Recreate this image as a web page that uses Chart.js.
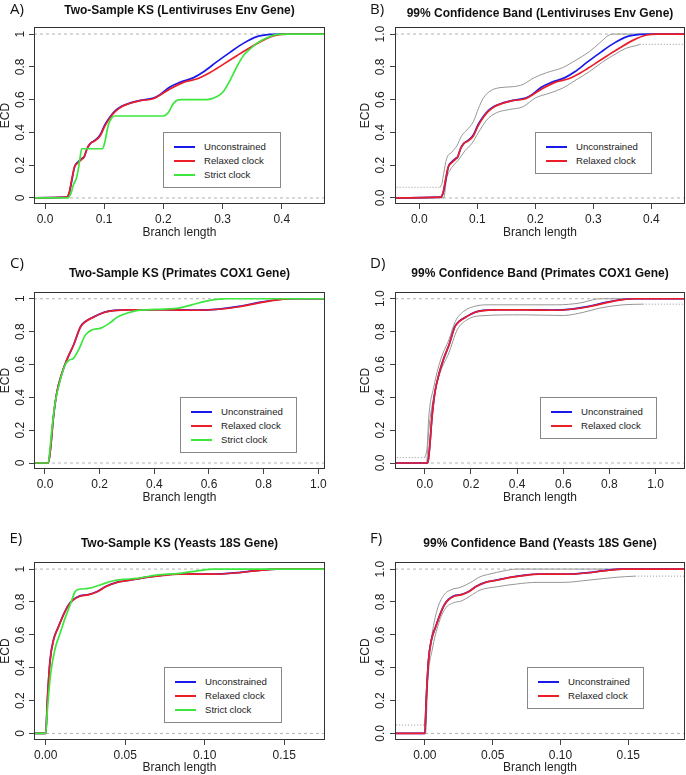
<!DOCTYPE html>
<html>
<head>
<meta charset="utf-8">
<script src="https://cdn.jsdelivr.net/npm/chart.js@4.4.0/dist/chart.umd.min.js"></script>
<style>
  html, body { margin: 0; padding: 0; background: #fff; }
  #fig { position: relative; width: 686px; height: 775px; overflow: hidden; font-family: "Liberation Sans", Arial, sans-serif; }
  .panel { position: absolute; }
  .letter { position: absolute; font-family: "Open Sans", "Liberation Sans", sans-serif; font-size: 15px; line-height: 1; color: #111; transform: translateY(-50%); }
  .title { position: absolute; font-weight: bold; font-size: 12px; line-height: 1; color: #111; white-space: nowrap; transform: translate(-50%, -50%); }
  .legend { position: absolute; box-sizing: border-box; border: 1px solid #888; background: #fff; font-size: 9.6px; color: #222; z-index: 2; }
  .legend .swatch { position: absolute; left: 10px; width: 21px; height: 2px; }
  .legend .label { position: absolute; left: 40px; line-height: 1; white-space: nowrap; transform: translateY(-50%); }
</style>
</head>
<body>
<div id="fig"></div>
<script>
// axis ticks
const ecdTicks = [0, 0.2, 0.4, 0.6, 0.8, 1];
const lentiTicks = [0, 0.1, 0.2, 0.3, 0.4];
const primTicks = [0, 0.2, 0.4, 0.6, 0.8, 1.0];
const yeastTicks = [0, 0.05, 0.10, 0.15];

const seriesNames = ['Unconstrained', 'Relaxed clock', 'Strict clock'];
const letters = ['A)', 'B)', 'C)', 'D)', 'E)', 'F)'];
const titles = [
  'Two-Sample KS (Lentiviruses Env Gene)',
  '99% Confidence Band (Lentiviruses Env Gene)',
  'Two-Sample KS (Primates COX1 Gene)',
  '99% Confidence Band (Primates COX1 Gene)',
  'Two-Sample KS (Yeasts 18S Gene)',
  '99% Confidence Band (Yeasts 18S Gene)'
];

// Lentiviruses Env gene: [branch length, ECD]
const lentiUnconstrained = [[-0.06,0],[0.037,0.005],[0.041,0.03],[0.045,0.10],[0.05,0.19],[0.056,0.22],[0.062,0.24],[0.066,0.25],[0.071,0.30],[0.076,0.33],[0.085,0.354],[0.093,0.384],[0.101,0.445],[0.11,0.496],[0.118,0.53],[0.13,0.561],[0.144,0.58],[0.161,0.595],[0.183,0.61],[0.194,0.63],[0.211,0.677],[0.228,0.705],[0.251,0.734],[0.268,0.77],[0.29,0.83],[0.313,0.89],[0.335,0.943],[0.358,0.984],[0.38,0.998],[0.40,1],[0.5,1]];
const lentiRelaxed = [[-0.06,0],[0.037,0.005],[0.041,0.035],[0.045,0.11],[0.05,0.19],[0.056,0.215],[0.062,0.235],[0.066,0.25],[0.071,0.30],[0.076,0.33],[0.085,0.35],[0.093,0.378],[0.101,0.438],[0.11,0.49],[0.118,0.525],[0.13,0.558],[0.144,0.578],[0.161,0.594],[0.183,0.605],[0.2,0.64],[0.211,0.665],[0.234,0.705],[0.256,0.726],[0.279,0.766],[0.301,0.815],[0.324,0.868],[0.346,0.917],[0.369,0.963],[0.392,0.994],[0.41,1],[0.5,1]];
const lentiStrict = [[-0.06,0],[0.039,0],[0.044,0.03],[0.048,0.08],[0.053,0.12],[0.056,0.17],[0.059,0.24],[0.062,0.30],[0.097,0.30],[0.101,0.34],[0.107,0.445],[0.112,0.485],[0.118,0.50],[0.2,0.50],[0.208,0.52],[0.217,0.577],[0.225,0.598],[0.232,0.60],[0.273,0.60],[0.29,0.617],[0.301,0.648],[0.313,0.72],[0.324,0.80],[0.335,0.868],[0.344,0.90],[0.358,0.943],[0.375,0.977],[0.392,0.998],[0.41,1],[0.5,1]];
const lentiUpper = [[0.036,0.065],[0.039,0.09],[0.042,0.15],[0.047,0.24],[0.056,0.28],[0.065,0.32],[0.073,0.38],[0.082,0.415],[0.093,0.465],[0.102,0.547],[0.11,0.608],[0.122,0.652],[0.139,0.673],[0.162,0.679],[0.179,0.693],[0.196,0.73],[0.219,0.764],[0.247,0.795],[0.27,0.841],[0.293,0.892],[0.31,0.943],[0.327,0.994],[0.333,1],[0.5,1]];
const lentiLower = [[-0.06,0],[0.042,0],[0.047,0.12],[0.053,0.17],[0.059,0.20],[0.067,0.23],[0.079,0.29],[0.09,0.33],[0.102,0.40],[0.116,0.475],[0.133,0.52],[0.156,0.54],[0.179,0.557],[0.2,0.61],[0.225,0.64],[0.247,0.67],[0.27,0.72],[0.293,0.77],[0.316,0.83],[0.339,0.88],[0.356,0.913],[0.373,0.929],[0.38,0.937]];
const lentiUpperTail = [[-0.06,0.065],[0.036,0.065]];
const lentiLowerTail = [[0.38,0.937],[0.5,0.937]];

// Primates COX1 gene
const primUnconstrained = [[-0.2,0],[0.012,0],[0.016,0.03],[0.021,0.10],[0.031,0.28],[0.043,0.425],[0.062,0.547],[0.08,0.628],[0.105,0.72],[0.13,0.83],[0.148,0.862],[0.179,0.89],[0.216,0.917],[0.253,0.929],[0.315,0.933],[0.438,0.933],[0.56,0.931],[0.636,0.937],[0.71,0.953],[0.784,0.978],[0.846,0.994],[0.907,1],[1.2,1]];
const primRelaxed = [[-0.2,0],[0.012,0],[0.016,0.03],[0.021,0.10],[0.031,0.28],[0.043,0.425],[0.062,0.547],[0.08,0.63],[0.105,0.72],[0.13,0.828],[0.148,0.86],[0.179,0.889],[0.216,0.916],[0.253,0.928],[0.315,0.932],[0.438,0.932],[0.56,0.93],[0.636,0.936],[0.71,0.951],[0.784,0.975],[0.846,0.992],[0.91,1],[1.2,1]];
const primStrict = [[-0.2,0],[0.012,0],[0.018,0.08],[0.025,0.2],[0.037,0.364],[0.056,0.506],[0.074,0.598],[0.086,0.624],[0.105,0.638],[0.123,0.689],[0.148,0.78],[0.173,0.811],[0.204,0.821],[0.235,0.85],[0.265,0.888],[0.302,0.913],[0.34,0.929],[0.438,0.937],[0.488,0.943],[0.537,0.963],[0.586,0.984],[0.636,0.998],[0.67,1],[1.2,1]];
const primUpper = [[0.0,0.033],[0.01,0.1],[0.017,0.28],[0.039,0.465],[0.068,0.628],[0.104,0.75],[0.132,0.862],[0.168,0.923],[0.226,0.957],[0.283,0.963],[0.571,0.963],[0.672,0.974],[0.744,0.998],[0.77,1],[1.2,1]];
const primLower = [[-0.2,0],[0.007,0],[0.017,0.2],[0.039,0.405],[0.068,0.557],[0.104,0.67],[0.14,0.81],[0.183,0.872],[0.24,0.896],[0.427,0.902],[0.6,0.898],[0.686,0.917],[0.758,0.943],[0.859,0.963],[0.945,0.967]];
const primUpperTail = [[-0.2,0.033],[0.0,0.033]];
const primLowerTail = [[0.945,0.967],[1.2,0.967]];

// Yeasts 18S gene
const yeastUnconstrained = [[-0.03,0],[0,0],[0.001,0.2],[0.0027,0.446],[0.0048,0.568],[0.008,0.65],[0.011,0.72],[0.0142,0.78],[0.0174,0.815],[0.0215,0.837],[0.0268,0.845],[0.032,0.862],[0.038,0.896],[0.0446,0.919],[0.053,0.933],[0.063,0.95],[0.074,0.963],[0.084,0.97],[0.105,0.97],[0.12,0.978],[0.132,0.99],[0.145,1],[0.2,1]];
const yeastRelaxed = [[-0.03,0],[0,0],[0.001,0.2],[0.0027,0.44],[0.0048,0.565],[0.008,0.648],[0.011,0.718],[0.0142,0.779],[0.0174,0.813],[0.0215,0.835],[0.0268,0.843],[0.032,0.86],[0.038,0.894],[0.0446,0.918],[0.053,0.932],[0.063,0.949],[0.074,0.962],[0.084,0.969],[0.105,0.969],[0.12,0.977],[0.132,0.989],[0.146,1],[0.2,1]];
const yeastStrict = [[-0.03,0],[0,0],[0.001,0.14],[0.0031,0.365],[0.0059,0.517],[0.009,0.609],[0.0121,0.70],[0.0153,0.781],[0.0184,0.862],[0.0205,0.876],[0.0268,0.882],[0.034,0.903],[0.0425,0.929],[0.0487,0.937],[0.057,0.943],[0.0697,0.963],[0.084,0.974],[0.099,0.994],[0.105,1],[0.2,1]];
const yeastUpper = [[0,0.051],[0.001,0.2],[0.0022,0.404],[0.0054,0.607],[0.009,0.75],[0.0139,0.84],[0.02,0.876],[0.026,0.888],[0.0334,0.917],[0.0407,0.953],[0.048,0.97],[0.0578,0.988],[0.0676,1],[0.2,1]];
const yeastLower = [[-0.03,0],[0.0005,0],[0.0022,0.323],[0.0054,0.507],[0.0102,0.669],[0.0151,0.76],[0.0212,0.795],[0.0273,0.807],[0.0334,0.836],[0.0407,0.872],[0.0529,0.892],[0.0676,0.909],[0.082,0.919],[0.102,0.919],[0.121,0.933],[0.141,0.95],[0.155,0.957]];
const yeastUpperTail = [[-0.03,0.051],[0,0.051]];
const yeastLowerTail = [[0.155,0.957],[0.2,0.957]];

// colours
const BLUE = '#1919eb';
const RED = '#eb1e28';
const GREEN = '#3ce63c';
const BAND = '#969696';
const REF = '#b4b4b4';
const FONT = '"Liberation Sans", Arial, sans-serif';

const panels = [
  { canvas: [0, 0, 255], plot: [34, 325, 27, 204], xRange: [-0.0186, 0.473], yRange: [-0.037, 1.043],
    xTicks: lentiTicks, xDigits: 1, yFixed: false, titleY: 9.5, letterPos: [10, 7.5], legend: [163, 132, 118, 56],
    ecdPad: 0, yTickPad: 0, branchPad: 16.7,
    lines: [lentiUnconstrained, lentiRelaxed, lentiStrict] },
  { canvas: [343, 0, 255], plot: [395, 685, 27, 204], xRange: [-0.042, 0.458], yRange: [-0.037, 1.043],
    xTicks: lentiTicks, xDigits: 1, yFixed: true, titleY: 13, letterPos: [370, 8.3], legend: [535, 132, 117, 42],
    ecdPad: 17, yTickPad: 1, branchPad: 16.7,
    lines: [lentiUnconstrained, lentiRelaxed], band: [lentiUpper, lentiLower], tails: [lentiUpperTail, lentiLowerTail] },
  { canvas: [0, 255, 255], plot: [34, 325, 292, 469], xRange: [-0.0402, 1.0245], yRange: [-0.0365, 1.041],
    xTicks: primTicks, xDigits: 1, yFixed: false, titleY: 273.3, letterPos: [10, 261.7], legend: [180, 397, 117, 56],
    ecdPad: 0, yTickPad: 0, branchPad: 6.3,
    lines: [primUnconstrained, primRelaxed, primStrict] },
  { canvas: [343, 255, 255], plot: [395, 685, 292, 469], xRange: [-0.1295, 1.128], yRange: [-0.0365, 1.041],
    xTicks: primTicks, xDigits: 1, yFixed: true, titleY: 273.3, letterPos: [370, 261.7], legend: [540, 397, 117, 42],
    ecdPad: 16.5, yTickPad: 1, branchPad: 6.3,
    lines: [primUnconstrained, primRelaxed], band: [primUpper, primLower], tails: [primUpperTail, primLowerTail] },
  { canvas: [0, 510, 265], plot: [34, 325, 562, 740], xRange: [-0.0074, 0.1756], yRange: [-0.04, 1.043],
    xTicks: yeastTicks, xDigits: 2, yFixed: false, titleY: 543.3, letterPos: [9.5, 537], legend: [164, 667, 118, 56],
    ecdPad: 0, yTickPad: 0, branchPad: 1.3,
    lines: [yeastUnconstrained, yeastRelaxed, yeastStrict] },
  { canvas: [343, 510, 265], plot: [395, 685, 562, 740], xRange: [-0.022, 0.1918], yRange: [-0.04, 1.043],
    xTicks: yeastTicks, xDigits: 2, yFixed: true, titleY: 543.3, letterPos: [370, 536.7], legend: [527, 667, 117, 42],
    ecdPad: 16.5, yTickPad: 1, branchPad: 1.3,
    lines: [yeastUnconstrained, yeastRelaxed], band: [yeastUpper, yeastLower], tails: [yeastUpperTail, yeastLowerTail] }
];

const lineColors = [BLUE, RED, GREEN];

const pts = arr => arr.map(([x, y]) => ({ x, y }));

const boxPlugin = {
  id: 'box',
  afterDatasetsDraw(chart) {
    const a = chart.chartArea, ctx = chart.ctx;
    ctx.save();
    ctx.strokeStyle = '#333';
    ctx.lineWidth = 1;
    ctx.strokeRect(Math.round(a.left) + 0.5, Math.round(a.top) + 0.5,
      Math.round(a.right - a.left) - 1, Math.round(a.bottom - a.top) - 1);
    ctx.restore();
  }
};

const fig = document.getElementById('fig');

const addText = (cls, text, left, top) => {
  const d = document.createElement('div');
  d.className = cls;
  d.textContent = text;
  d.style.left = left + 'px';
  d.style.top = top + 'px';
  fig.appendChild(d);
  return d;
};

panels.forEach((p, i) => {
  const [cx, cy, ch] = p.canvas;
  const [pl, pr, pt, pb] = p.plot;

  const holder = document.createElement('div');
  holder.className = 'panel';
  holder.style.left = cx + 'px';
  holder.style.top = cy + 'px';
  const canvas = document.createElement('canvas');
  canvas.width = 343;
  canvas.height = ch;
  canvas.style.width = '343px';
  canvas.style.height = ch + 'px';
  holder.appendChild(canvas);
  fig.appendChild(holder);

  const yw = pl - cx;
  const xh = cy + ch - pb;

  const datasets = [];
  // dashed reference lines at 0 and 1
  [0, 1].forEach(level => {
    datasets.push({
      data: [{ x: p.xRange[0], y: level }, { x: p.xRange[1], y: level }],
      borderColor: REF, borderWidth: 1, borderDash: [3, 3], pointRadius: 0, order: 10
    });
  });
  if (p.band) {
    p.band.forEach(b => datasets.push({
      data: pts(b), borderColor: BAND, borderWidth: 1, pointRadius: 0,
      cubicInterpolationMode: 'monotone', order: 6
    }));
    p.tails.forEach(t => datasets.push({
      data: pts(t), borderColor: BAND, borderWidth: 1, borderDash: [1, 2], pointRadius: 0, order: 7
    }));
  }
  p.lines.forEach((l, k) => datasets.push({
    label: seriesNames[k],
    data: pts(l), borderColor: lineColors[k], borderWidth: 1.7, pointRadius: 0,
    cubicInterpolationMode: 'monotone', order: 3 - k
  }));

  new Chart(canvas, {
    type: 'line',
    data: { datasets },
    plugins: [boxPlugin],
    options: {
      responsive: false,
      animation: false,
      devicePixelRatio: 1,
      layout: { padding: { top: pt - cy, right: cx + 343 - pr, left: 0, bottom: 0 } },
      plugins: { legend: { display: false }, tooltip: { enabled: false }, title: { display: false } },
      scales: {
        x: {
          type: 'linear', min: p.xRange[0], max: p.xRange[1],
          afterBuildTicks: s => { s.ticks = p.xTicks.map(v => ({ value: v })); },
          afterFit: s => { s.height = xh; },
          ticks: { autoSkip: false, maxRotation: 0, padding: 3, color: '#222',
                   font: { family: FONT, size: 12 }, callback: v => Number(v).toFixed(p.xDigits) },
          grid: { drawOnChartArea: false, drawTicks: true, tickLength: 5, color: '#444' },
          border: { display: false },
          title: { display: true, text: 'Branch length', color: '#222',
                   font: { family: FONT, size: 12, lineHeight: 1 }, padding: { top: 0, bottom: p.branchPad } }
        },
        y: {
          type: 'linear', min: p.yRange[0], max: p.yRange[1],
          afterBuildTicks: s => { s.ticks = ecdTicks.map(v => ({ value: v })); },
          afterFit: s => { s.width = yw; },
          ticks: { autoSkip: false, minRotation: 90, maxRotation: 90, crossAlign: 'center', padding: p.yTickPad,
                   color: '#222', font: { family: FONT, size: 12 },
                   callback: v => p.yFixed ? Number(v).toFixed(1) : String(Number(v)) },
          grid: { drawOnChartArea: false, drawTicks: true, tickLength: 5, color: '#444' },
          border: { display: false },
          title: { display: true, text: 'ECD', color: '#222',
                   font: { family: FONT, size: 12, lineHeight: 1 }, padding: { top: p.ecdPad, bottom: 0 } }
        }
      }
    }
  });

  addText('title', titles[i], (pl + pr) / 2, p.titleY);
  addText('letter', letters[i], p.letterPos[0], p.letterPos[1]);

  // legend box inside the plot, as R draws it
  const [lx, ly, lw, lh] = p.legend;
  const leg = document.createElement('div');
  leg.className = 'legend';
  leg.style.left = lx + 'px';
  leg.style.top = ly + 'px';
  leg.style.width = lw + 'px';
  leg.style.height = lh + 'px';
  p.lines.forEach((l, k) => {
    const rowY = 14 + 14 * k;
    const sw = document.createElement('div');
    sw.className = 'swatch';
    sw.style.top = (rowY - 1) + 'px';
    sw.style.backgroundColor = lineColors[k];
    leg.appendChild(sw);
    const lab = document.createElement('div');
    lab.className = 'label';
    lab.style.top = rowY + 'px';
    lab.textContent = seriesNames[k];
    leg.appendChild(lab);
  });
  fig.appendChild(leg);
});
</script>
</body>
</html>
